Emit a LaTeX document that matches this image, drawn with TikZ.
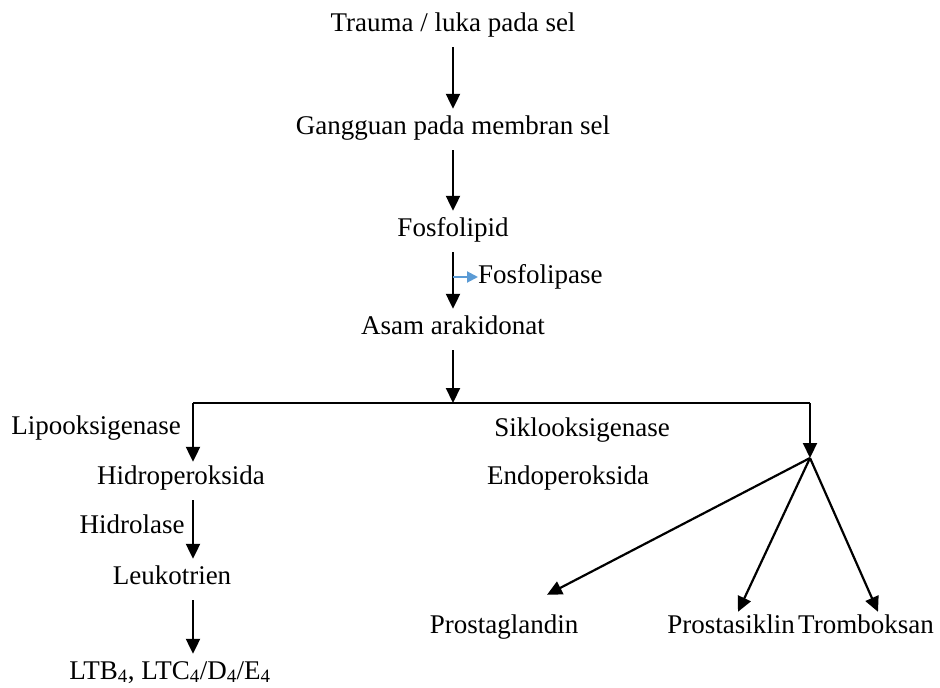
\documentclass[tikz,border=0pt]{standalone}
\usepackage{fontspec}
\setmainfont{Liberation Serif}
\usetikzlibrary{arrows.meta}
\tikzset{
  lbl/.style={inner sep=0pt, text height=18pt, text depth=6pt, font=\fontsize{27}{32}\selectfont},
  arr/.style={-{Triangle[length=15pt,width=14pt]}, line width=2.2pt, shorten <=10pt, shorten >=7pt},
  blu/.style={-{Triangle[length=11pt,width=11pt]}, line width=2pt, color=fosblue}
}
\definecolor{fosblue}{RGB}{91,155,213}
\begin{document}
\begin{tikzpicture}[x=1pt,y=-1pt]
        \useasboundingbox (0,0) rectangle (940,688);
        % jalur utama
        \node[lbl] (trauma) at (453,25) {Trauma / luka pada sel};
        \node[lbl] (gangguan) at (453,128) {Gangguan pada membran sel};
        \node[lbl] (fosfolipid) at (453,230) {Fosfolipid};
        \node[lbl] (asam) at (453,328) {Asam arakidonat};
        \node[lbl, anchor=west] (fosfolipase) at (478,277) {Fosfolipase};
        \draw[arr] (trauma) -- (gangguan);
        \draw[arr] (gangguan) -- (fosfolipid);
        \draw[arr] (fosfolipid) -- (asam);
        \draw[blu] (fosfolipase.west -| fosfolipid) -- (fosfolipase.west);
        % percabangan
        \coordinate (junc) at (453,403);
        \coordinate (lbr) at (193,403);
        \coordinate (rbr) at (810,403);
        \coordinate (fan) at (810,458);
        \draw[line width=2pt] (lbr) -- (rbr);
        \draw[arr, shorten >=0pt] (asam) -- (junc);
        % lipooksigenase
        \node[lbl] (lipo) at (96,428) {Lipooksigenase};
        \node[lbl] (hidroper) at (181,478) {Hidroperoksida};
        \node[lbl] (hidrolase) at (132,527) {Hidrolase};
        \node[lbl] (leuko) at (172,578) {Leukotrien};
        \node[lbl] (ltb) at (170,673) {LTB\textsubscript{4}, LTC\textsubscript{4}/D\textsubscript{4}/E\textsubscript{4}};
        \draw[arr, shorten <=0pt, shorten >=4pt] (lbr) -- (lbr |- hidroper.north);
        \draw[arr] (hidroper.south -| lbr) -- (leuko.north -| lbr);
        \draw[arr] (leuko.south -| lbr) -- (ltb.north -| lbr);
        % siklooksigenase
        \node[lbl] (siklo) at (582,430) {Siklooksigenase};
        \node[lbl] (endo) at (568,478) {Endoperoksida};
        \node[lbl] (pgland) at (504,627) {Prostaglandin};
        \node[lbl] (psiklin) at (731,627) {Prostasiklin};
        \node[lbl] (tbok) at (866,627) {Tromboksan};
        \draw[arr, shorten <=0pt, shorten >=0pt] (rbr) -- (fan);
        \draw[arr, shorten <=0pt, shorten >=0pt] (fan) -- ([xshift=43pt,yshift=20pt]pgland.north);
        \draw[arr, shorten <=0pt, shorten >=0pt] (fan) -- ([xshift=7pt,yshift=3pt]psiklin.north);
        \draw[arr, shorten <=0pt, shorten >=0pt] (fan) -- ([xshift=12pt,yshift=3pt]tbok.north);
    \end{tikzpicture}
\end{document}
